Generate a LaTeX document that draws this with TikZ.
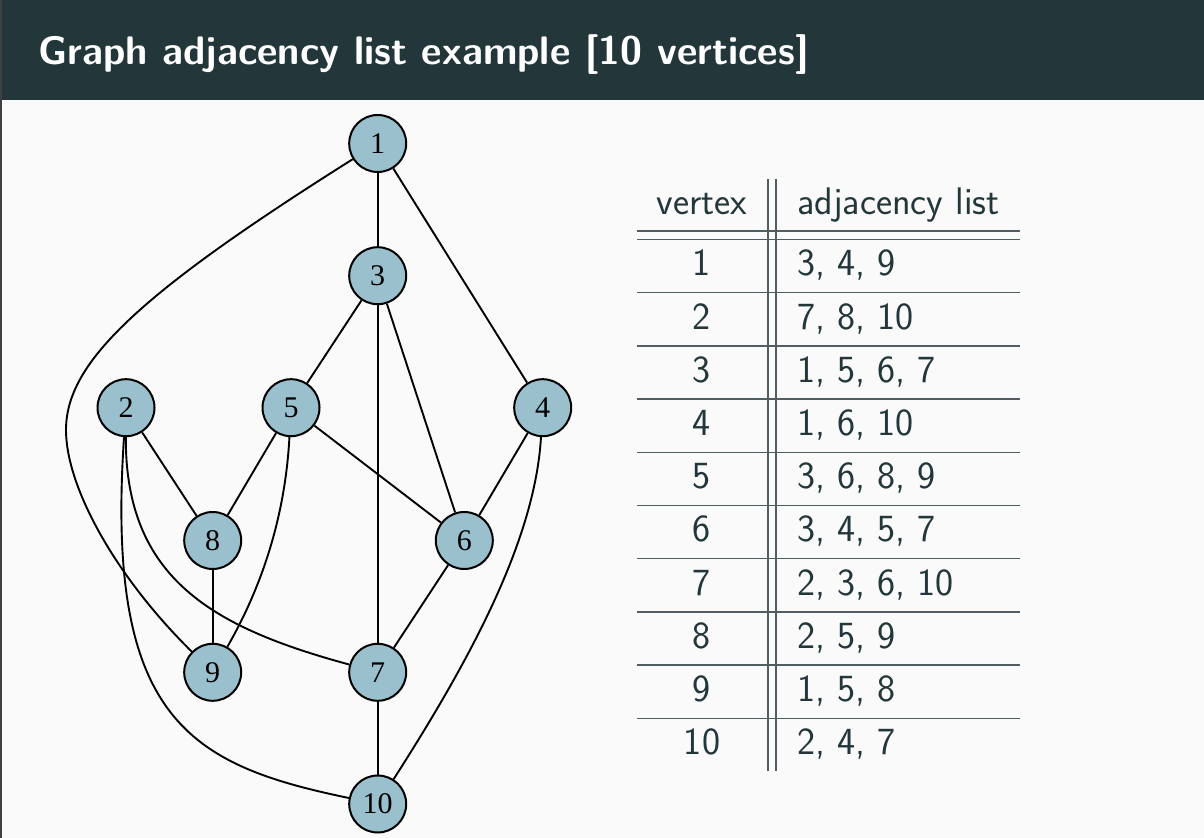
\documentclass[tikz,border=0pt]{standalone}
\usepackage{fontspec}
\newfontfamily\vtxfont{Liberation Serif}
\definecolor{mDarkTeal}{HTML}{23373B}
\definecolor{mBack}{HTML}{FAFAFA}
\definecolor{vtxfill}{RGB}{154,192,206}
\definecolor{rulegray}{RGB}{80,94,97}
\begin{document}
\begin{tikzpicture}[x=0.5pt,y=-0.5pt,
  vtx/.style={circle,draw,line width=1pt,fill=vtxfill,minimum size=28.5pt,inner sep=0pt,font=\vtxfont\fontsize{15}{17}\selectfont},
  edge/.style={line width=0.95pt},
  tabtxt/.style={text=mDarkTeal,font=\sffamily\fontsize{19.2}{22}\selectfont,inner sep=0pt},
  tabrule/.style={draw=rulegray,line width=0.65pt}]
\fill[mBack] (0,0) rectangle (1204,838);
\useasboundingbox (0,0) rectangle (1204,838);
% frame title bar
\fill[mDarkTeal] (0,0) rectangle (1204,100);
\fill[black!75] (0,0) rectangle (2,838);
\node[anchor=base west,text=white,font=\sffamily\bfseries\fontsize{19.9}{24}\selectfont,inner sep=0pt] (title) at (38,65) {Graph adjacency list example [10 vertices]};
% vertices
\node[vtx] (n1) at (377.7,143.5) {1};
\node[vtx] (n3) at (377.7,275.7) {3};
\node[vtx] (n2) at (126,407.7) {2};
\node[vtx] (n5) at (291,407.7) {5};
\node[vtx] (n4) at (542.7,407.7) {4};
\node[vtx] (n8) at (212.7,540.5) {8};
\node[vtx] (n6) at (464.3,540.5) {6};
\node[vtx] (n9) at (212.7,672.3) {9};
\node[vtx] (n7) at (377.7,672.3) {7};
\node[vtx] (n10) at (377.7,804) {10};
% edges
\draw[edge] (n1) -- (n3);
\draw[edge] (n1) -- (n4);
\draw[edge] (n1) .. controls (137,295) and (66,363) .. (66,430) .. controls (66,486) and (114,575) .. (n9);
\draw[edge] (n3) -- (n5);
\draw[edge] (n3) -- (n7);
\draw[edge] (n3) -- (n6);
\draw[edge] (n2) -- (n8);
\draw[edge] (n2) .. controls (125,580) and (215,628) .. (n7);
\draw[edge] (n2) .. controls (105,720) and (190,765) .. (n10);
\draw[edge] (n5) -- (n8);
\draw[edge] (n5) .. controls (285,520) and (260,590) .. (n9);
\draw[edge] (n5) -- (n6);
\draw[edge] (n4) -- (n6);
\draw[edge] (n4) .. controls (535,540) and (470,660) .. (n10);
\draw[edge] (n8) -- (n9);
\draw[edge] (n6) -- (n7);
\draw[edge] (n7) -- (n10);
% adjacency table
\draw[tabrule] (768,179) -- (768,771);
\draw[tabrule] (776,179) -- (776,771);
\draw[tabrule] (637,231) -- (1020,231);
\draw[tabrule] (637,239.3) -- (1020,239.3);
\node[tabtxt,anchor=base] (hvtx) at (702,215) {vertex};
\node[tabtxt,anchor=base west] (hadj) at (797,215) {adjacency list};
\foreach \v/\a [count=\i] in {1/{3, 4, 9},2/{7, 8, 10},3/{1, 5, 6, 7},4/{1, 6, 10},5/{3, 6, 8, 9},6/{3, 4, 5, 7},7/{2, 3, 6, 10},8/{2, 5, 9},9/{1, 5, 8},10/{2, 4, 7}}{
  \node[tabtxt,anchor=base] (v\i) at (702,{222.8+53.2*\i}) {\v};
  \node[tabtxt,anchor=base west] (a\i) at (797,{222.8+53.2*\i}) {\a};
}
\foreach \i in {1,...,9}
  \draw[tabrule] (637,{239.5+53.2*\i}) -- (1020,{239.5+53.2*\i});
\end{tikzpicture}
\end{document}
